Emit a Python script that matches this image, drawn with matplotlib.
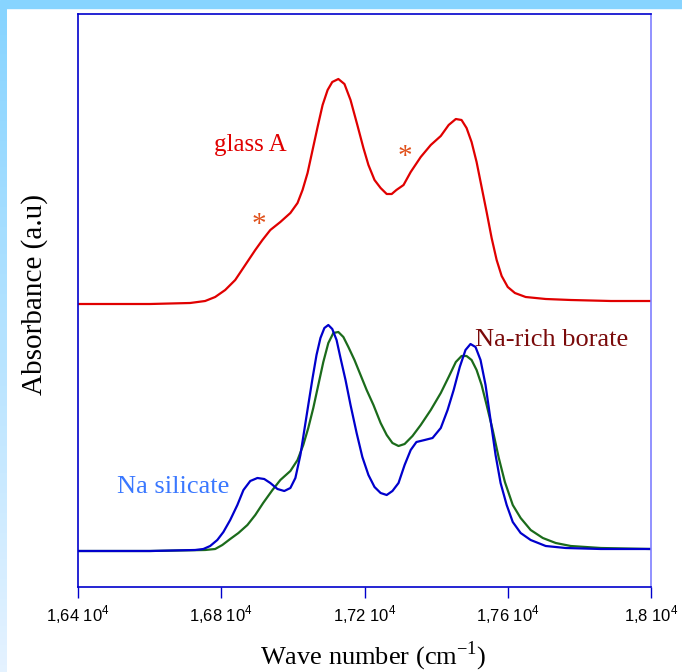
import matplotlib
matplotlib.use("Agg")
import matplotlib.pyplot as plt
import numpy as np
from matplotlib.patches import Rectangle

# wave number (cm-1) and absorbance (a.u.)
glass_x = [16400, 16601, 16713, 16755, 16783, 16811, 16839, 16867, 16895, 16915,
           16937, 16965, 16993, 17013, 17027, 17041, 17055, 17069, 17083, 17097,
           17110, 17127, 17144, 17161, 17180, 17197, 17211, 17228, 17245, 17262,
           17276, 17289, 17309, 17329, 17357, 17385, 17413, 17435, 17455, 17471,
           17485, 17499, 17513, 17527, 17541, 17555, 17569, 17583, 17600, 17620,
           17650, 17706, 17776, 17888, 18000]
glass_y = [2.83, 2.83, 2.84, 2.86, 2.90, 2.97, 3.07, 3.22, 3.37, 3.47,
           3.57, 3.65, 3.74, 3.84, 3.97, 4.14, 4.37, 4.60, 4.82, 4.97,
           5.05, 5.08, 5.03, 4.87, 4.62, 4.39, 4.22, 4.07, 3.99, 3.93,
           3.93, 3.97, 4.02, 4.15, 4.30, 4.42, 4.51, 4.62, 4.68, 4.67,
           4.59, 4.45, 4.25, 4.00, 3.75, 3.49, 3.27, 3.11, 3.00, 2.94,
           2.90, 2.88, 2.87, 2.86, 2.86]

silicate_x = [16400, 16601, 16727, 16750, 16769, 16789, 16806, 16825, 16845, 16862,
              16881, 16901, 16920, 16937, 16957, 16976, 16993, 17007, 17021, 17032,
              17043, 17055, 17066, 17077, 17088, 17099, 17110, 17122, 17133, 17147,
              17161, 17178, 17194, 17211, 17228, 17245, 17262, 17278, 17295, 17312,
              17329, 17345, 17368, 17390, 17413, 17432, 17449, 17466, 17482, 17496,
              17510, 17524, 17538, 17552, 17566, 17580, 17597, 17614, 17636, 17664,
              17706, 17762, 17860, 18000]
silicate_y = [0.36, 0.36, 0.37, 0.38, 0.41, 0.47, 0.55, 0.67, 0.82, 0.97,
              1.06, 1.09, 1.08, 1.04, 0.98, 0.96, 0.99, 1.09, 1.32, 1.57,
              1.82, 2.09, 2.32, 2.49, 2.59, 2.62, 2.58, 2.47, 2.29, 2.07,
              1.82, 1.54, 1.30, 1.12, 1.00, 0.94, 0.92, 0.96, 1.04, 1.22,
              1.37, 1.45, 1.47, 1.49, 1.59, 1.77, 1.97, 2.20, 2.37, 2.43,
              2.40, 2.27, 2.02, 1.67, 1.32, 1.04, 0.82, 0.65, 0.54, 0.47,
              0.41, 0.39, 0.38, 0.38]

borate_x = [16400, 16601, 16755, 16783, 16803, 16825, 16848, 16873, 16895, 16917,
            16943, 16965, 16993, 17013, 17029, 17043, 17057, 17071, 17085, 17099,
            17113, 17127, 17141, 17155, 17172, 17189, 17206, 17225, 17245, 17262,
            17278, 17295, 17312, 17334, 17357, 17385, 17413, 17435, 17455, 17471,
            17485, 17499, 17513, 17527, 17541, 17558, 17575, 17592, 17614, 17636,
            17664, 17698, 17734, 17776, 17860, 18000]
borate_y = [0.36, 0.36, 0.37, 0.38, 0.42, 0.48, 0.54, 0.62, 0.72, 0.84,
            0.97, 1.07, 1.16, 1.27, 1.42, 1.59, 1.79, 2.02, 2.25, 2.44,
            2.54, 2.55, 2.50, 2.40, 2.27, 2.12, 1.97, 1.82, 1.64, 1.52,
            1.44, 1.41, 1.43, 1.51, 1.62, 1.77, 1.94, 2.10, 2.25, 2.31,
            2.31, 2.27, 2.17, 2.02, 1.82, 1.57, 1.29, 1.05, 0.82, 0.69,
            0.57, 0.49, 0.44, 0.41, 0.39, 0.38]

xticks = [16400, 16800, 17200, 17600, 18000]
xtick_labels = ["1,64 10$^\\mathregular{4}$", "1,68 10$^\\mathregular{4}$",
                "1,72 10$^\\mathregular{4}$", "1,76 10$^\\mathregular{4}$",
                "1,8 10$^\\mathregular{4}$"]

serif = ["Liberation Serif", "DejaVu Serif"]
sans = ["Liberation Sans", "DejaVu Sans"]

fig = plt.figure(figsize=(6.82, 6.72), dpi=100)

# slide-like background bands
fig.patches.append(Rectangle((0, 1 - 8 / 672), 1, 8 / 672, transform=fig.transFigure,
                             color="#87d4ff", zorder=0))
band = fig.add_axes([0, 0, 6 / 682, 1 - 8 / 672])
band.imshow(np.linspace(0, 1, 100).reshape(-1, 1), aspect="auto",
            cmap=matplotlib.colors.LinearSegmentedColormap.from_list("b", ["#87d4ff", "#e4f2ff"]))
band.axis("off")

ax = fig.add_axes([78 / 682, 85 / 672, 573 / 682, 573 / 672])
ax.plot(glass_x, glass_y, color="#e00000", lw=1.6)
ax.plot(borate_x, borate_y, color="#1b6b1b", lw=1.6)
ax.plot(silicate_x, silicate_y, color="#0000cc", lw=1.6)

ax.set_xlim(16400, 18000)
ax.set_ylim(0, 5.73)
ax.set_xticks(xticks)
ax.set_xticklabels(xtick_labels, family=sans, fontsize=12)
ax.set_yticks([])
ax.tick_params(axis="x", direction="out", length=8, width=1, color="#0000cc", pad=4)

for s in ["left", "top", "bottom"]:
    ax.spines[s].set_color("#0000cc")
    ax.spines[s].set_linewidth(1.2)
ax.spines["right"].set_color("#7f7fff")
ax.spines["right"].set_linewidth(1.2)

ax.set_xlabel("Wave number (cm$^\\mathregular{-1}$)", family=serif, fontsize=19)
ax.xaxis.set_label_coords(0.515, -0.091)
ax.set_ylabel("Absorbance (a.u)", family=serif, fontsize=21)
ax.yaxis.set_label_coords(-0.052, 0.51)

ax.text(16881, 4.42, "glass A", color="#e00000", family=serif, fontsize=18, ha="center", va="center")
ax.text(16666, 1.00, "Na silicate", color="#3a78ff", family=serif, fontsize=19, ha="center", va="center")
ax.text(17723, 2.47, "Na-rich borate", color="#7a0a0a", family=serif, fontsize=19, ha="center", va="center")
ax.text(16906, 3.62, "*", color="#e0501a", family=serif, fontsize=21, ha="center", va="center")
ax.text(17312, 4.30, "*", color="#e0501a", family=serif, fontsize=21, ha="center", va="center")

fig.savefig("out.png", dpi=100)
